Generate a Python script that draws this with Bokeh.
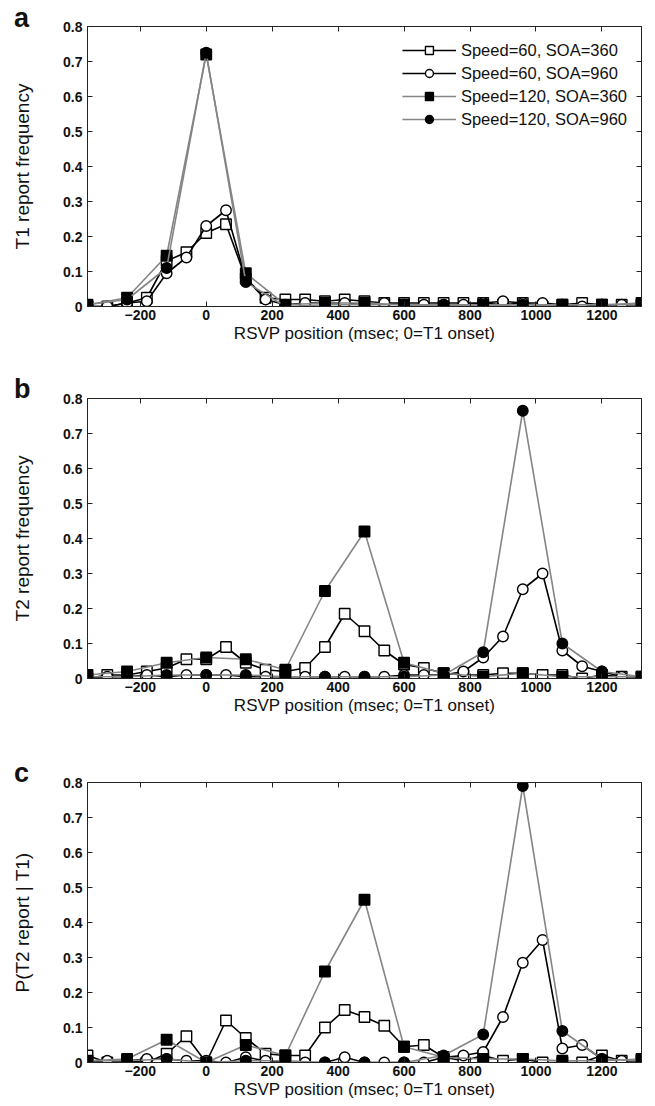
from bokeh.plotting import figure
from bokeh.layouts import column
from bokeh.models import FixedTicker, LinearAxis, Range1d, CustomLabelingPolicy, Div
from bokeh.embed import file_html
from bokeh.resources import INLINE

# ---------------- data ----------------
x60 = [-360, -300, -240, -180, -120, -60, 0, 60, 120, 180, 240, 300, 360, 420, 480,
       540, 600, 660, 720, 780, 840, 900, 960, 1020, 1080, 1140, 1200, 1260, 1320]
x120 = [-360, -240, -120, 0, 120, 240, 360, 480, 600, 720, 840, 960, 1080, 1200, 1320]

series_names = ["Speed=60, SOA=360", "Speed=60, SOA=960",
                "Speed=120, SOA=360", "Speed=120, SOA=960"]

# panel a: T1 report frequency
a_s60_360 = [0.0, 0.0, 0.01, 0.025, 0.13, 0.155, 0.21, 0.235, 0.08, 0.025, 0.02, 0.02, 0.015, 0.02, 0.015,
             0.01, 0.01, 0.01, 0.01, 0.01, 0.01, 0.005, 0.01, 0.0, 0.005, 0.01, 0.005, 0.005, 0.005]
a_s60_960 = [0.0, 0.0, 0.01, 0.015, 0.095, 0.14, 0.23, 0.275, 0.08, 0.02, 0.005, 0.01, 0.01, 0.01, 0.005,
             0.01, 0.005, 0.005, 0.005, 0.005, 0.01, 0.015, 0.01, 0.01, 0.005, 0.0, 0.005, 0.005, 0.005]
a_s120_360 = [0.005, 0.025, 0.145, 0.72, 0.095, 0.005, 0.01, 0.01, 0.005, 0.0, 0.005, 0.0, 0.005, 0.005, 0.01]
a_s120_960 = [0.005, 0.02, 0.11, 0.725, 0.07, 0.0, 0.005, 0.005, 0.005, 0.005, 0.005, 0.005, 0.005, 0.005, 0.005]

# panel b: T2 report frequency
b_s60_360 = [0.0, 0.01, 0.01, 0.02, 0.03, 0.055, 0.055, 0.09, 0.045, 0.025, 0.02, 0.03, 0.09, 0.185, 0.135,
             0.08, 0.04, 0.03, 0.015, 0.01, 0.01, 0.015, 0.015, 0.01, 0.01, 0.0, 0.01, 0.005, 0.005]
b_s60_960 = [0.0, 0.005, 0.005, 0.01, 0.005, 0.01, 0.01, 0.01, 0.005, 0.005, 0.005, 0.005, 0.005, 0.005, 0.005,
             0.005, 0.01, 0.01, 0.01, 0.02, 0.06, 0.12, 0.255, 0.30, 0.08, 0.035, 0.02, 0.005, 0.005]
b_s120_360 = [0.01, 0.02, 0.045, 0.06, 0.055, 0.025, 0.25, 0.42, 0.045, 0.015, 0.005, 0.015, 0.005, 0.005, 0.005]
b_s120_960 = [0.005, 0.005, 0.01, 0.01, 0.01, 0.005, 0.005, 0.005, 0.005, 0.01, 0.075, 0.765, 0.10, 0.02, 0.005]

# panel c: P(T2 report | T1)
c_s60_360 = [0.02, 0.0, 0.005, 0.0, 0.025, 0.075, 0.0, 0.12, 0.07, 0.025, 0.02, 0.02, 0.10, 0.15, 0.13,
             0.105, 0.045, 0.05, 0.015, 0.005, 0.02, 0.005, 0.01, 0.0, 0.0, 0.0, 0.02, 0.005, 0.005]
c_s60_960 = [0.0, 0.005, 0.005, 0.01, 0.01, 0.005, 0.005, 0.0, 0.015, 0.005, 0.0, 0.0, 0.0, 0.015, 0.0,
             0.0, 0.0, 0.0, 0.015, 0.02, 0.03, 0.13, 0.285, 0.35, 0.04, 0.05, 0.01, 0.005, 0.005]
c_s120_360 = [0.005, 0.01, 0.065, 0.0, 0.05, 0.02, 0.26, 0.465, 0.045, 0.015, 0.01, 0.01, 0.005, 0.005, 0.01]
c_s120_960 = [0.005, 0.005, 0.01, 0.0, 0.005, 0.005, 0.0, 0.0, 0.0, 0.02, 0.08, 0.79, 0.09, 0.01, 0.005]

x_ticks = [-200, 0, 200, 400, 600, 800, 1000, 1200]
y_ticks = [0, 0.1, 0.2, 0.3, 0.4, 0.5, 0.6, 0.7, 0.8]
y_tick_labels = ["0", "0.1", "0.2", "0.3", "0.4", "0.5", "0.6", "0.7", "0.8"]

x_title = "RSVP position (msec; 0=T1 onset)"
y_titles = ["T1 report frequency", "T2 report frequency", "P(T2 report | T1)"]
letters = ["a", "b", "c"]

FONT = "Liberation Sans"
GRAY = "#858585"
INK = "#111111"
FRAME = "#222222"
W = 647

NO_LABELS = CustomLabelingPolicy(code="for (const i of indices) indices.unset(i); return indices")


def letter_div(letter, height, pad):
    """Panel letter; its line box may hang into the transparent top border below."""
    html = ('<div style="padding-top:%dpx; padding-left:14px; line-height:31px; '
            'font-family:\'Liberation Sans\'; font-weight:bold; font-size:27px; '
            'color:%s; white-space:nowrap;">%s</div>' % (pad, INK, letter))
    return Div(text=html, width=W, height=height, margin=0,
               styles={"overflow": "visible", "z-index": "2"})


def make_panel(idx, s1, s2, s3, s4, height, legend=False):
    p = figure(width=W, height=height,
               x_range=Range1d(-360, 1320), y_range=Range1d(0, 0.8),
               output_backend="svg", toolbar_location=None,
               min_border_left=87, min_border_right=6,
               min_border_top=9, min_border_bottom=42)
    p.xgrid.visible = False
    p.ygrid.visible = False
    p.outline_line_color = FRAME
    p.border_fill_alpha = 0

    xa = p.xaxis[0]
    ya = p.yaxis[0]
    xa.ticker = FixedTicker(ticks=x_ticks)
    ya.ticker = FixedTicker(ticks=y_ticks)
    ya.major_label_overrides = dict(zip(y_ticks, y_tick_labels))
    for ax in (xa, ya):
        ax.major_tick_in = 5
        ax.major_tick_out = 0
        ax.minor_tick_line_color = None
        ax.axis_line_color = FRAME
        ax.major_tick_line_color = FRAME
        ax.major_label_text_font = FONT
        ax.major_label_text_font_style = "bold"
        ax.major_label_text_font_size = "14px"
        ax.major_label_text_color = INK
        ax.axis_label_text_font = FONT
        ax.axis_label_text_font_style = "normal"
        ax.axis_label_text_color = INK
    xa.axis_label = x_title
    xa.axis_label_text_font_size = "17px"
    xa.major_label_standoff = 3
    xa.axis_label_standoff = 1
    ya.axis_label = y_titles[idx]
    ya.axis_label_text_font_size = "19px"
    ya.major_label_standoff = 5
    ya.axis_label_standoff = 27

    # box ticks on top and right (no labels)
    top_ax = LinearAxis(ticker=FixedTicker(ticks=x_ticks), major_label_policy=NO_LABELS)
    right_ax = LinearAxis(ticker=FixedTicker(ticks=y_ticks), major_label_policy=NO_LABELS)
    for ax in (top_ax, right_ax):
        ax.major_tick_in = 5
        ax.major_tick_out = 0
        ax.minor_tick_line_color = None
        ax.axis_line_color = FRAME
        ax.major_tick_line_color = FRAME
        ax.major_label_standoff = 0
        ax.major_label_text_font_size = "0px"
    p.add_layout(top_ax, "above")
    p.add_layout(right_ax, "right")

    specs = [
        (x60, s1, "black", "square", "white"),
        (x60, s2, "black", "circle", "white"),
        (x120, s3, GRAY, "square", "black"),
        (x120, s4, GRAY, "circle", "black"),
    ]
    for (xs, ys, lc, mk, fc), name in zip(specs, series_names):
        kw = dict(legend_label=name) if legend else {}
        p.line(xs, ys, line_color=lc, line_width=1.6, **kw)
        p.scatter(xs, ys, marker=mk, size=10.5, fill_color=fc, line_color="black",
                  line_width=1.4, **kw)

    if legend:
        lg = p.legend[0]
        lg.location = "top_right"
        lg.border_line_alpha = 0
        lg.background_fill_alpha = 0
        lg.label_text_font = FONT
        lg.label_text_font_size = "16.5px"
        lg.label_text_color = INK
        lg.glyph_width = 54
        lg.glyph_height = 20
        lg.label_height = 20
        lg.label_standoff = 5
        lg.spacing = 3
        lg.padding = 5
        lg.margin = 9
    return p


da = letter_div(letters[0], 17, 3)
pa = make_panel(0, a_s60_360, a_s60_960, a_s120_360, a_s120_960, 331, legend=True)
db = letter_div(letters[1], 41, 26)
pb = make_panel(1, b_s60_360, b_s60_960, b_s120_360, b_s120_960, 331)
dc = letter_div(letters[2], 53, 38)
pc = make_panel(2, c_s60_360, c_s60_960, c_s120_360, c_s120_960, 331)

layout = column(da, pa, db, pb, dc, pc, spacing=0)
open("out.html", "w").write(file_html(layout, INLINE))
